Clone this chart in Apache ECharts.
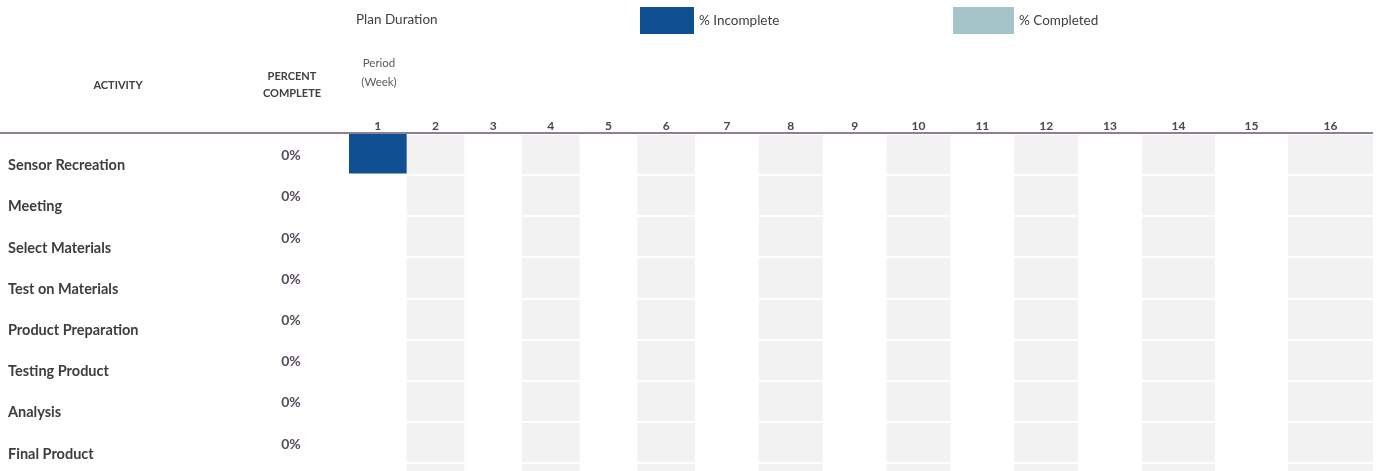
<!DOCTYPE html>
<html>
<head>
<meta charset="utf-8">
<script src="https://cdn.jsdelivr.net/npm/echarts@6/dist/echarts.min.js"></script>
<style>
html,body{margin:0;padding:0;background:#fff;overflow:hidden;}
#chart{width:1379px;height:506px;}
</style>
</head>
<body>
<div id="chart"></div>
<script>
// ---- data ----
const activities = ['Sensor Recreation','Meeting','Select Materials','Test on Materials','Product Preparation','Testing Product','Analysis','Final Product'];
const percentComplete = [0,0,0,0,0,0,0,0];
const planStart = [1,0,0,0,0,0,0,0];
const planDuration = [1,0,0,0,0,0,0,0];
const weeks = [1,2,3,4,5,6,7,8,9,10,11,12,13,14,15,16];
const legendNames = ['Plan Duration','% Incomplete','% Completed'];
const headerTexts = { activity: 'ACTIVITY', percent: 'PERCENT\nCOMPLETE', period: 'Period\n(Week)' };

// ---- layout (column groups of differing widths) ----
const groups = [
  {from:1, to:6, left:349, right:695},
  {from:7, to:13, left:695, right:1142},
  {from:14, to:15, left:1142, right:1288},
  {from:16, to:16, left:1288, right:1373}
];
const FONT = 'Lato, "Noto Sans", sans-serif';
const GRAY = '#f2f2f2';
const BLUE = '#0e5091';
const TEAL = '#a5c4c8';
const TOP = 133.5, ROWH = 41.2;
const rowCats = activities.concat(['']); // spreadsheet shows one more (empty) row at the bottom

const chart = echarts.init(document.getElementById('chart'));
const seriesData = activities.map((n,i)=>[i, planStart[i], planDuration[i], percentComplete[i]]);

const grids = [], xAxes = [], yAxes = [], series = [];
groups.forEach((g, gi) => {
  grids.push({left:g.left, width:g.right-g.left, top:TOP, height:ROWH*rowCats.length, containLabel:false});
  const wk = weeks.filter(w => w>=g.from && w<=g.to);
  const cols = wk.map(w => w % 2 === 0 ? GRAY : 'rgba(0,0,0,0)');
  xAxes.push({
    type:'category', gridIndex:gi, position:'top', data:wk.map(String), boundaryGap:true, z:0,
    axisLine:{show:false}, axisTick:{show:false},
    axisLabel:{interval:0, margin:1, fontFamily:FONT, fontWeight:'bold', fontSize:12, color:'#4d4352'},
    splitArea:{show:true, interval:0, areaStyle:{color:cols}},
    splitLine:{show:false}
  });
});
// y axes
yAxes.push({
  type:'category', gridIndex:0, inverse:true, data:rowCats, position:'left', z:1,
  axisLine:{show:false}, axisTick:{show:false},
  axisLabel:{interval:0, align:'left', verticalAlign:'top', lineHeight:23, margin:341, fontFamily:FONT, fontWeight:'bold', fontSize:14.5, color:'#3d3d3d'},
  splitLine:{show:true, interval:0, lineStyle:{color:'#ffffff', width:2}}
});
yAxes.push({
  type:'category', gridIndex:0, inverse:true, data:rowCats, position:'left', z:1,
  axisLine:{show:false}, axisTick:{show:false}, splitLine:{show:false},
  axisLabel:{interval:0, align:'center', verticalAlign:'top', lineHeight:3, margin:58, fontFamily:FONT, fontWeight:'bold', fontSize:14, color:'#574b5c',
    formatter:(v, idx) => idx < percentComplete.length ? Math.round(percentComplete[idx]*100) + '%' : ''}
});
for (let gi = 1; gi < groups.length; gi++) {
  yAxes.push({
    type:'category', gridIndex:gi, inverse:true, data:rowCats, z:1,
    axisLine:{show:false}, axisTick:{show:false}, axisLabel:{show:false},
    splitLine:{show:true, interval:0, lineStyle:{color:'#ffffff', width:2}}
  });
}
function yIndexFor(gi){ return gi === 0 ? 0 : gi + 1; }

function makeRender(g, kind, color){
  return function(params, api){
    const act = api.value(0), start = api.value(1), dur = api.value(2), pct = api.value(3);
    if (!dur) return;
    const split = start + dur * pct;
    let a, b;
    if (kind === 'done') { a = start; b = split; } else { a = split; b = start + dur; }
    const lo = Math.max(a, g.from), hi = Math.min(b, g.to + 1);
    if (hi <= lo) return;
    const band = api.size([1,1]);
    const c = api.coord([0, act]);
    const x0 = c[0] - band[0]/2 + (lo - g.from) * band[0];
    const y0 = c[1] - band[1]/2 + 0.5;
    return {type:'rect', shape:{x:x0, y:y0, width:(hi-lo)*band[0], height:band[1]-1.8}, style:{fill:color}};
  };
}
groups.forEach((g, gi) => {
  series.push({
    type:'custom', name:legendNames[1], xAxisIndex:gi, yAxisIndex:yIndexFor(gi), z:3,
    itemStyle:{color:BLUE}, encode:{x:1, y:0}, data:seriesData,
    renderItem:makeRender(g, 'todo', BLUE), silent:true
  });
  series.push({
    type:'custom', name:legendNames[2], xAxisIndex:gi, yAxisIndex:yIndexFor(gi), z:3,
    itemStyle:{color:TEAL}, encode:{x:1, y:0}, data:seriesData,
    renderItem:makeRender(g, 'done', TEAL), silent:true
  });
});

const legendText = {fontFamily:FONT, fontSize:13.5, color:'#404040'};
chart.setOption({
  animation:false,
  textStyle:{fontFamily:FONT},
  grid:grids, xAxis:xAxes, yAxis:yAxes, series:series,
  legend:[
    {data:[legendNames[1]], left:640, top:7, padding:0, itemWidth:54, itemHeight:27, itemGap:0, icon:'rect', textStyle:legendText, selectedMode:false},
    {data:[legendNames[2]], left:953, top:7, padding:0, itemWidth:61, itemHeight:27, itemGap:0, icon:'rect', textStyle:legendText, selectedMode:false}
  ],
  graphic:[
    {type:'text', x:356, y:20, style:{text:legendNames[0], font:'13.5px ' + FONT, fill:'#404040', textVerticalAlign:'middle'}},
    {type:'text', x:118, y:85, style:{text:headerTexts.activity, font:'bold 11px ' + FONT, fill:'#404040', textAlign:'center', textVerticalAlign:'middle'}},
    {type:'text', x:292, y:85, style:{text:headerTexts.percent, font:'bold 11px ' + FONT, fill:'#404040', textAlign:'center', textVerticalAlign:'middle', lineHeight:17}},
    {type:'text', x:379, y:73, style:{text:headerTexts.period, font:'11.5px ' + FONT, fill:'#595959', textAlign:'center', textVerticalAlign:'middle', lineHeight:19}},
    {type:'line', z:100, shape:{x1:0, y1:133, x2:1373, y2:133}, style:{stroke:'#8f7f94', lineWidth:2}}
  ]
});
</script>
</body>
</html>
